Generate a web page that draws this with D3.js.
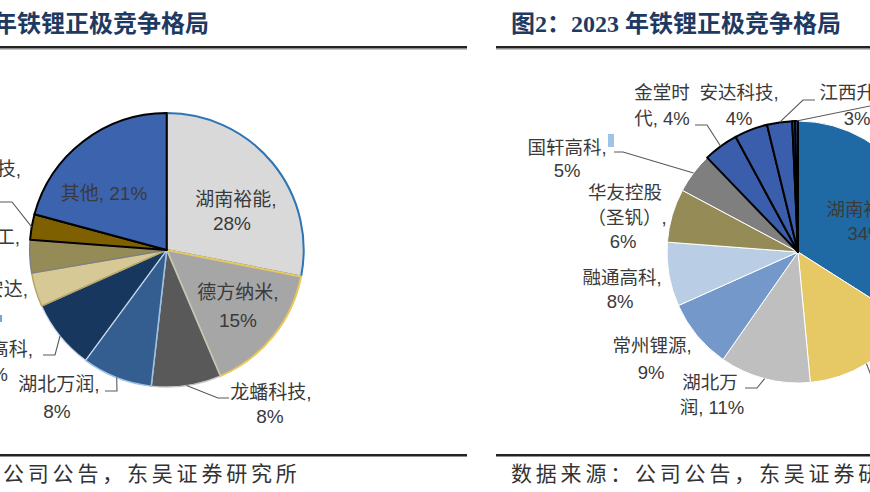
<!DOCTYPE html>
<html><head><meta charset="utf-8">
<script src="https://cdn.jsdelivr.net/npm/d3@7"></script>
<style>body{margin:0;background:#fff;overflow:hidden} svg{display:block}</style>
</head><body>
<svg id="c" width="870" height="492"></svg>
<script>
// ---------- data: 2022 (left, partly cropped) ----------
const names22  = ["湖南裕能","德方纳米","龙蟠科技","湖北万润","融通高科","安达","工","技","其他"];
const values22 = [28.1, 15.5, 8.2, 8.3, 8.2, 4.0, 3.9, 3.0, 20.8];
const pcts22   = ["28%","15%","8%","8%","8%","4%","4%","3%","21%"];
// ---------- data: 2023 (right, partly cropped) ----------
const names23  = ["湖南裕能","德方纳米","湖北万润","常州锂源","融通高科","华友控股（圣钒）","国轩高科","金堂时代","安达科技","江西升华","",""];
const values23 = [34.0, 14.5, 11.2, 8.6, 7.9, 6.6, 5.0, 4.3, 4.1, 3.1, 0.35, 0.35];
const pcts23   = ["34%","15%","11%","9%","8%","6%","5%","4%","4%","3%","",""];
const titles   = ["图1：2022 年铁锂正极竞争格局","图2：2023 年铁锂正极竞争格局"];
const source   = "数据来源：公司公告，东吴证券研究所";

// ---------- styles ----------
const fills22   = ["#d9d9d9","#a6a6a6","#595959","#345e8f","#17375e","#d6c995","#958b57","#7f6000","#3b63ae"];
const strokes22 = ["#2e75b6","#e9c85c","#c4c4c4","#9dc3e6","#c5d5ea","#b7a467","#808080","#000","#000"];
const sw22      = [2, 2, 1.5, 1.5, 1.2, 1.5, 1.5, 2, 2];
const fills23   = ["#1f6aa5","#e6c865","#bfbfbf","#7498c9","#b9cde5","#958b57","#7f7f7f","#3a5eab","#3a5eab","#3a5eab","#3a5eab","#2b4a8c"];
const strokes23 = ["#fff","#fff","#fff","#fff","#fff","#fff","#fff","#000","#000","#000","#000","#000"];
const sw23      = [1,1,1,1,1,1,1,2,2,2,2,2];

// label layout: mode, lines [[x, baseline, anchor]...], leader [[x,y]...] (start is computed on the arc)
const lay22 = [
  {mode:"wrap", lines:[[236,206,"middle"],[232,230,"middle"]]},
  {mode:"wrap", lines:[[238,299,"middle"],[238,327,"middle"]]},
  {mode:"wrap", lines:[[271,399,"middle"],[270,423,"middle"]], leader:[[218,398],[229,398]]},
  {mode:"wrap", lines:[[59,391,"middle"],[57,418,"middle"]], leader:[[117,391],[105,391]]},
  {mode:"wrap", lines:[[33,356,"end"],[8,381,"end"]], leader:[[55,355],[43,355]]},
  {mode:"name", lines:[[28,296,"end"]]},
  {mode:"name", lines:[[20,244,"end"]]},
  {mode:"name", lines:[[21,176,"end"]], leader:[[12,202],[-10,202]]},
  {mode:"one",  lines:[[104,200,"middle"]]}
];
const lay23 = [
  {mode:"wrap", lines:[[866,216,"middle"],[866,240,"middle"]]},
  {mode:"none", leader:[[876,388]]},
  {mode:3,      lines:[[710,389,"middle"],[712,414,"middle"]], leader:[[757,388],[745,388]]},
  {mode:"wrap", lines:[[652,352,"middle"],[651,379,"middle"]]},
  {mode:"wrap", lines:[[622,284,"middle"],[620,308,"middle"]]},
  {mode:"three",lines:[[625,199,"middle"],[627,224,"middle"],[623,248,"middle"]]},
  {mode:"wrap", lines:[[567,154,"middle"],[567,177,"middle"]], leader:[[623,152],[614,152]]},
  {mode:3,      lines:[[662,99,"middle"],[662,125,"middle"]], leader:[[707,125],[695,125]]},
  {mode:"wrap", lines:[[739,99,"middle"],[739,125,"middle"]]},
  {mode:"wrap", lines:[[859,99,"middle"],[857,125,"middle"]], leader:[[803,100],[815,100]]},
  {mode:"none"},
  {mode:"none", leader:[[885,103]]}
];

function labelLines(name, pct, mode){
  if (mode === "none") return [];
  if (mode === "name") return [name + ","];
  if (mode === "one") return [name + ", " + pct];
  if (mode === "three") return [name.slice(0,4), name.slice(4) + ",", pct];
  if (typeof mode === "number") return [name.slice(0,mode), name.slice(mode) + ", " + pct];
  return [name + ",", pct];
}

const svg = d3.select("#c");
const labelFont = "'Liberation Sans','Noto Sans CJK SC',sans-serif";

function drawPie(cfg){
  const g = svg.append("g").attr("transform", `translate(${cfg.cx},${cfg.cy})`);
  const pie = d3.pie().sort(null).value(d => d);
  const arcs = pie(cfg.values);
  const arc = d3.arc().innerRadius(0).outerRadius(cfg.r);
  g.selectAll("path").data(arcs).join("path")
    .attr("d", arc)
    .attr("fill", (d,i) => cfg.fills[i])
    .attr("stroke", (d,i) => cfg.strokes[i])
    .attr("stroke-width", (d,i) => cfg.sw[i])
    .attr("stroke-linejoin", "round");

  const lg = svg.append("g");
  arcs.forEach((d,i) => {
    const L = cfg.layout[i];
    if (L.leader){
      const a = (d.startAngle + d.endAngle) / 2;
      const p0 = [cfg.cx + cfg.r * Math.sin(a), cfg.cy - cfg.r * Math.cos(a)];
      lg.append("path")
        .attr("d", d3.line()([p0, ...L.leader]))
        .attr("fill","none").attr("stroke","#595959").attr("stroke-width",1.1);
    }
    const lines = labelLines(cfg.names[i], cfg.pcts[i], L.mode);
    lines.forEach((s,k) => {
      const pos = L.lines[k];
      lg.append("text").attr("x", pos[0]).attr("y", pos[1])
        .attr("text-anchor", pos[2])
        .attr("font-family", labelFont).attr("font-size", cfg.fs)
        .attr("fill", "#3a3a3a").text(s);
    });
  });
}

drawPie({cx:166.7, cy:250, r:137, values:values22, names:names22, pcts:pcts22,
  fills:fills22, strokes:strokes22, sw:sw22, layout:lay22, fs:19});
drawPie({cx:798, cy:252, r:131, values:values23, names:names23, pcts:pcts23,
  fills:fills23, strokes:strokes23, sw:sw23, layout:lay23, fs:18.5});

// small highlight marks seen in the picture
svg.append("rect").attr("x",608).attr("y",134).attr("width",6).attr("height",13).attr("fill","#9dc3e6");
svg.append("rect").attr("x",0).attr("y",315).attr("width",2).attr("height",7).attr("fill","#6fa8dc");

// titles, rules and sources for the two panels
const panelX = [-121, 511];
const ruleX = [[0,467],[496,870]];
panelX.forEach((x,i) => {
  svg.append("text").attr("x", x).attr("y", 32)
    .attr("font-family","'Liberation Serif','Noto Sans CJK SC',serif")
    .attr("font-weight","bold").attr("font-size",24).attr("fill","#1f3a62")
    .text(titles[i]);
  svg.append("rect").attr("x", ruleX[i][0]).attr("y", 46).attr("width", ruleX[i][1]-ruleX[i][0]).attr("height", 2.5).attr("fill","#222");
  svg.append("rect").attr("x", ruleX[i][0]).attr("y", 48.5).attr("width", ruleX[i][1]-ruleX[i][0]).attr("height", 1).attr("fill","#888");
  svg.append("rect").attr("x", ruleX[i][0]).attr("y", 454).attr("width", ruleX[i][1]-ruleX[i][0]).attr("height", 2.5).attr("fill","#222");
  svg.append("text").attr("x", x).attr("y", 481)
    .attr("font-family","'Noto Sans CJK SC',sans-serif")
    .attr("font-size",21).attr("letter-spacing",3.8).attr("fill","#333")
    .text(source);
});
</script>
</body></html>
